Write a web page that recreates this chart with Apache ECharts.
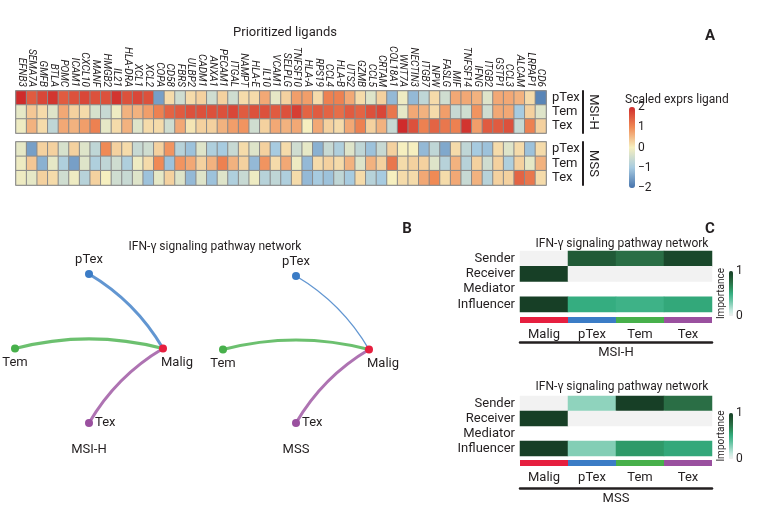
<!DOCTYPE html>
<html><head><meta charset="utf-8">
<script src="https://cdn.jsdelivr.net/npm/echarts@6/dist/echarts.min.js"></script>
<style>html,body{margin:0;padding:0;background:#fff}#c{width:757px;height:506px}</style>
</head><body><div id="c"></div>
<script>
const ligands = ['EFNB3','SEMA7A','GMFB','BTLA','POMC','ICAM1','CXCL10','MANF','HMGB2','IL21','HLA-DRA','XCL1','XCL2','COPA','CD58','FBRS','ULBP2','CADM1','ANXA1','PECAM1','ITGAL','NAMPT','HLA-E','IL10','VCAM1','SELPLG','TNFSF10','HLA-A','RPS19','CCL4','HLA-B','UTS2','GZMB','CCL5','CRTAM','COL18A1','WNT7A','NECTIN3','ITGB7','NPW','FASLG','MIF','TNFSF14','IFNG','ITGB2','GSTP1','CCL3','ALCAM','LRPAP1','CD6'];
const cellTypes = ['pTex','Tem','Tex'];
const msiH_pTex = [2.0,1.5,1.7,1.9,1.5,1.6,1.7,1.6,1.6,1.9,1.6,1.7,1.6,-1.5,0.2,-0.5,0.2,0.3,-0.5,0.3,-0.5,0.2,0.2,0.7,-0.2,0.3,0.8,0.8,0.2,1.1,1.1,0.7,0.2,-0.3,0.3,-1.2,-0.1,-1.2,-0.7,0.2,-0.5,0.7,0.7,0.6,-0.3,0.7,0.7,0.6,0.2,-1.8];
const msiH_Tem  = [-0.2,0.4,0.2,-0.3,0.7,0.3,0.2,-0.4,-0.6,-0.1,0.6,0.6,0.8,1.1,1.4,1.5,1.6,1.6,1.6,1.6,1.7,1.5,1.6,1.6,1.5,1.6,1.8,1.4,1.5,1.4,1.3,1.5,1.4,1.6,1.7,1.2,-0.2,0.7,0.6,0.2,0.8,-0.6,-0.5,0.9,-0.5,0.7,0.7,-1.0,0.3,-0.3];
const msiH_Tex  = [-0.1,0.6,0.2,-0.7,0.7,0.6,0.8,1.1,-0.2,0.2,0.6,-0.3,0.2,0.2,-0.5,0.7,0.1,0.3,0.3,0.6,0.8,0.9,-0.5,0.3,0.7,0.6,0.7,0.0,0.7,0.3,0.2,0.7,1.1,0.3,0.6,-0.6,2.0,1.6,1.1,1.4,1.2,1.1,1.9,0.8,1.5,1.5,1.6,-0.6,1.1,0.3];
const mss_pTex  = [-0.2,-1.5,0.3,0.3,-0.4,0.3,-0.3,-0.7,1.0,0.3,0.2,-0.6,-0.5,0.3,0.9,-0.8,-1.1,-0.3,-0.9,-1.0,-0.6,0.2,-0.3,0.3,-1.0,0.2,-0.5,-0.2,-1.3,-0.6,-0.9,-0.3,-0.7,-1.1,-0.6,0.3,0.0,0.0,-1.2,-0.7,-1.4,0.2,-0.7,-1.0,-1.1,0.2,-0.3,0.2,-1.1,0.2];
const mss_Tem   = [-0.1,0.4,-1.3,-0.2,-0.9,-1.5,-0.3,-0.9,-0.7,-0.5,-0.9,-0.1,0.2,1.0,-1.1,0.9,0.7,0.3,0.6,1.1,0.6,0.3,-1.2,0.9,0.2,0.7,-0.1,-1.2,0.2,0.3,0.2,0.6,-0.3,0.6,0.3,1.2,0.2,0.3,0.3,-0.3,-0.8,0.6,-0.8,0.3,-0.5,0.3,-0.9,0.3,-0.2,0.6];
const mss_Tex   = [-0.1,-0.2,0.3,0.2,-0.5,-0.1,-0.8,0.3,0.0,-0.5,-0.6,-0.3,-1.1,-0.2,0.3,-0.3,-1.2,-0.3,-1.1,-0.3,-0.9,-0.6,-0.1,-0.8,-0.7,-0.9,0.2,-1.2,-1.0,-1.1,-0.7,-1.0,0.2,-0.8,-1.0,0.0,0.2,0.2,0.7,1.0,0.2,0.7,-0.6,0.6,-0.8,0.3,0.3,1.4,1.2,0.2];

const groups = ['Malig','pTex','Tem','Tex'];
const groupColors = ['#e61f3f','#3b7cc6','#47b04b','#9a509f'];
const roles = ['Sender','Receiver','Mediator','Influencer'];
const msiH_roles = {
  Sender:[0,0.85,0.75,0.95], Receiver:[1,0,0,0], Mediator:[null,null,null,null], Influencer:[1,0.5,0.47,0.52]
};
const mss_roles = {
  Sender:[0,0.25,1,0.75], Receiver:[1,0,0,0], Mediator:[null,null,null,null], Influencer:[1,0.28,0.58,0.52]
};
const netSources = ['pTex','Tem','Tex'];
const netTarget = 'Malig';
const msiH_weights = [1,1,1];
const mss_weights = [0.35,1,1];

const FONT = "Roboto,'Liberation Sans',sans-serif";
const TXT = '#231f20';
const GREENS = ['#f2f2f2','#c6e9df','#8fd3bd','#5cc09c','#35ad80','#2b8f5c','#2a6e45','#1f5533','#173f26'];

function hm(rowsArr){
  const d=[];
  rowsArr.forEach((row,r)=>row.forEach((v,c)=>d.push([c,r,v])));
  return d;
}
function roleData(obj){
  const d=[];
  roles.forEach((r,ri)=>obj[r].forEach((v,ci)=>{ if(v!==null) d.push([ci,ri,v]); }));
  return d;
}
function netNodes(){
  const labelStyle = {
    Malig:{position:'bottom',distance:4,offset:[14,0]},
    pTex:{position:'top',distance:4},
    Tem:{position:'bottom',distance:4},
    Tex:{position:'right',distance:2}
  };
  return groups.map((g,i)=>({
    name:g,
    value:[Math.round(Math.cos(i*Math.PI/2)), Math.round(Math.sin(i*Math.PI/2))],
    itemStyle:{color:groupColors[i]},
    label:Object.assign({show:true,fontSize:13,color:TXT,fontFamily:FONT},labelStyle[g])
  }));
}
function netLinks(weights){
  return netSources.map((s,k)=>({
    source:s, target:netTarget,
    lineStyle:{width:0.5+weights[k]*2.6, color:groupColors[groups.indexOf(s)], opacity:0.8, curveness:0.13}
  }));
}
const hidden = {show:false};
const noLine = {axisLine:{show:false},axisTick:{show:false},splitLine:{show:false}};
const ts = (size,extra)=>Object.assign({fontSize:size,fontWeight:'normal',fontFamily:FONT,color:TXT},extra||{});

const option = {
  animation:false,
  textStyle:{fontFamily:FONT,color:TXT},
  title:[
    {text:'Prioritized ligands',left:280,top:21,textAlign:'center',textStyle:ts(13)},
    {text:'A',left:705,top:24,textAlign:'center',textStyle:ts(15,{fontWeight:'bold'})},
    {text:'B',left:402,top:217,textAlign:'center',textStyle:ts(15,{fontWeight:'bold'})},
    {text:'C',left:705,top:217,textAlign:'center',textStyle:ts(15,{fontWeight:'bold'})},
    {text:'IFN-γ signaling pathway network',left:210,top:236,textAlign:'center',textStyle:ts(12)},
    {text:'IFN-γ signaling pathway network',left:617,top:233,textAlign:'center',textStyle:ts(12)},
    {text:'IFN-γ signaling pathway network',left:617,top:376,textAlign:'center',textStyle:ts(12)},
    {text:'Scaled exprs ligand',left:620,top:89,textStyle:ts(12)}
  ],
  grid:[
    {left:16,top:91,width:530,height:42,show:true,borderColor:'#888',borderWidth:1.5,backgroundColor:'transparent'},
    {left:16,top:142,width:530,height:43,show:true,borderColor:'#888',borderWidth:1.5,backgroundColor:'transparent'},
    {left:629,top:107,width:6,height:81},
    {left:15,top:274,width:148,height:149},
    {left:223,top:276,width:146,height:147},
    {left:520,top:251,width:192,height:61},
    {left:520,top:317,width:192,height:6},
    {left:729,top:271,width:4,height:45},
    {left:520,top:396,width:192,height:60},
    {left:520,top:460,width:192,height:6},
    {left:729,top:413,width:4,height:46}
  ],
  xAxis:[
    {gridIndex:0,type:'category',data:ligands,position:'top',...noLine,axisLabel:{rotate:90,fontStyle:'italic',fontSize:10,margin:4,interval:0,color:TXT,fontFamily:FONT}},
    {gridIndex:1,type:'category',data:ligands,show:false},
    {gridIndex:2,type:'value',show:false},
    {gridIndex:3,type:'value',min:-1,max:1,...noLine,axisLabel:hidden,name:'MSI-H',nameLocation:'middle',nameGap:20,nameTextStyle:ts(13)},
    {gridIndex:4,type:'value',min:-1,max:1,...noLine,axisLabel:hidden,name:'MSS',nameLocation:'middle',nameGap:20,nameTextStyle:ts(13)},
    {gridIndex:5,type:'category',data:groups,show:false},
    {gridIndex:6,type:'category',data:groups,position:'bottom',...noLine,axisLabel:{fontSize:13,margin:5,interval:0,color:TXT,fontFamily:FONT}},
    {gridIndex:6,type:'category',data:groups,position:'bottom',offset:19,axisLine:{show:true,lineStyle:{color:TXT,width:2.5}},axisTick:hidden,axisLabel:hidden,splitLine:hidden,name:'MSI-H',nameLocation:'middle',nameGap:4,nameTextStyle:ts(13)},
    {gridIndex:7,type:'value',show:false},
    {gridIndex:8,type:'category',data:groups,show:false},
    {gridIndex:9,type:'category',data:groups,position:'bottom',...noLine,axisLabel:{fontSize:13,margin:5,interval:0,color:TXT,fontFamily:FONT}},
    {gridIndex:9,type:'category',data:groups,position:'bottom',offset:22,axisLine:{show:true,lineStyle:{color:TXT,width:2.5}},axisTick:hidden,axisLabel:hidden,splitLine:hidden,name:'MSS',nameLocation:'middle',nameGap:4,nameTextStyle:ts(13)},
    {gridIndex:10,type:'value',show:false}
  ],
  yAxis:[
    {gridIndex:0,type:'category',data:cellTypes,inverse:true,position:'right',...noLine,axisLabel:{fontSize:13,margin:6,interval:0,color:TXT,fontFamily:FONT}},
    {gridIndex:0,type:'category',data:cellTypes,position:'right',offset:37,axisLine:{show:true,lineStyle:{color:TXT,width:2}},axisTick:hidden,axisLabel:hidden,splitLine:hidden,name:'MSI-H',nameLocation:'middle',nameRotate:-90,nameGap:4,nameTextStyle:ts(13)},
    {gridIndex:1,type:'category',data:cellTypes,inverse:true,position:'right',...noLine,axisLabel:{fontSize:13,margin:6,interval:0,color:TXT,fontFamily:FONT}},
    {gridIndex:1,type:'category',data:cellTypes,position:'right',offset:37,axisLine:{show:true,lineStyle:{color:TXT,width:2}},axisTick:hidden,axisLabel:hidden,splitLine:hidden,name:'MSS',nameLocation:'middle',nameRotate:-90,nameGap:4,nameTextStyle:ts(13)},
    {gridIndex:2,type:'value',min:-2,max:2,interval:1,position:'right',...noLine,axisLabel:{fontSize:12,margin:3,color:TXT,fontFamily:FONT,formatter:v=>String(v).replace('-','−')}},
    {gridIndex:3,type:'value',min:-1,max:1,show:false},
    {gridIndex:4,type:'value',min:-1,max:1,show:false},
    {gridIndex:5,type:'category',data:roles,inverse:true,position:'left',...noLine,axisLabel:{fontSize:13,margin:5,interval:0,color:TXT,fontFamily:FONT}},
    {gridIndex:6,type:'value',min:0,max:1,show:false},
    {gridIndex:7,type:'value',min:0,max:1,interval:1,position:'right',...noLine,axisLabel:{fontSize:12,margin:3,color:TXT,fontFamily:FONT}},
    {gridIndex:7,type:'value',min:0,max:1,position:'left',...noLine,axisLabel:hidden,name:'Importance',nameLocation:'middle',nameRotate:90,nameGap:3,nameTextStyle:ts(10)},
    {gridIndex:8,type:'category',data:roles,inverse:true,position:'left',...noLine,axisLabel:{fontSize:13,margin:5,interval:0,color:TXT,fontFamily:FONT}},
    {gridIndex:9,type:'value',min:0,max:1,show:false},
    {gridIndex:10,type:'value',min:0,max:1,interval:1,position:'right',...noLine,axisLabel:{fontSize:12,margin:3,color:TXT,fontFamily:FONT}},
    {gridIndex:10,type:'value',min:0,max:1,position:'left',...noLine,axisLabel:hidden,name:'Importance',nameLocation:'middle',nameRotate:90,nameGap:3,nameTextStyle:ts(10)}
  ],
  visualMap:[
    {type:'continuous',seriesIndex:[0,1],min:-2,max:2,orient:'vertical',left:629,top:107,itemWidth:6,itemHeight:81,padding:0,calculable:false,hoverLink:false,
      inRange:{color:['#4673ad','#a7cbe0','#f6efbf','#f08a55','#cf2b2b']}},
    {type:'continuous',seriesIndex:4,min:0,max:1,orient:'vertical',left:729,top:271,itemWidth:4,itemHeight:45,padding:0,calculable:false,hoverLink:false,
      inRange:{color:GREENS}},
    {type:'continuous',seriesIndex:6,min:0,max:1,orient:'vertical',left:729,top:413,itemWidth:4,itemHeight:46,padding:0,calculable:false,hoverLink:false,
      inRange:{color:GREENS}}
  ],
  series:[
    {type:'heatmap',xAxisIndex:0,yAxisIndex:0,data:hm([msiH_pTex,msiH_Tem,msiH_Tex]),itemStyle:{borderColor:'#8a8a8a',borderWidth:1},emphasis:{disabled:true}},
    {type:'heatmap',xAxisIndex:1,yAxisIndex:2,data:hm([mss_pTex,mss_Tem,mss_Tex]),itemStyle:{borderColor:'#8a8a8a',borderWidth:1},emphasis:{disabled:true}},
    {type:'graph',coordinateSystem:'cartesian2d',xAxisIndex:3,yAxisIndex:5,symbolSize:8,data:netNodes(),links:netLinks(msiH_weights),emphasis:{disabled:true},z:3},
    {type:'graph',coordinateSystem:'cartesian2d',xAxisIndex:4,yAxisIndex:6,symbolSize:8,data:netNodes(),links:netLinks(mss_weights),emphasis:{disabled:true},z:3},
    {type:'heatmap',xAxisIndex:5,yAxisIndex:7,data:roleData(msiH_roles),emphasis:{disabled:true}},
    {type:'bar',xAxisIndex:6,yAxisIndex:8,barWidth:'100%',data:groups.map((g,i)=>({value:1,itemStyle:{color:groupColors[i]}})),emphasis:{disabled:true}},
    {type:'heatmap',xAxisIndex:9,yAxisIndex:11,data:roleData(mss_roles),emphasis:{disabled:true}},
    {type:'bar',xAxisIndex:10,yAxisIndex:12,barWidth:'100%',data:groups.map((g,i)=>({value:1,itemStyle:{color:groupColors[i]}})),emphasis:{disabled:true}}
  ]
};
const chart = echarts.init(document.getElementById('c'),null,{renderer:'canvas'});
chart.setOption(option);
</script>
</body></html>
